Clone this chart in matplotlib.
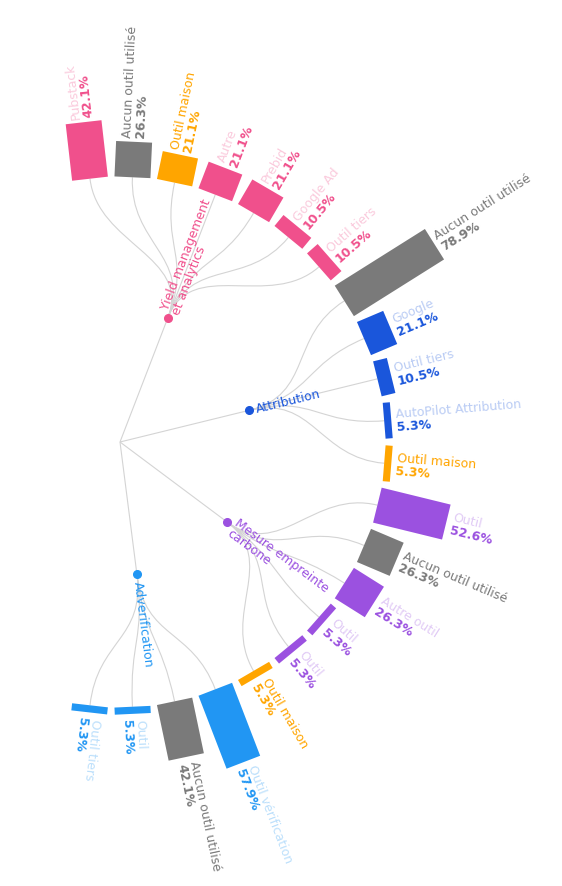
import numpy as np
import matplotlib.pyplot as plt
from matplotlib.patches import Polygon
from matplotlib.path import Path
from matplotlib.patches import PathPatch

# data
categories = ["Yield management\net analytics", "Attribution", "Mesure empreinte\ncarbone", "Adverification"]
cat_colors = ["#f0508c", "#1a56db", "#9b51e0", "#2196f3"]
leaf_cat = [0, 0, 0, 0, 0, 0, 0, 1, 1, 1, 1, 1, 2, 2, 2, 2, 2, 2, 3, 3, 3, 3]
leaf_names = ["Pubstack", "Aucun outil utilisé", "Outil maison", "Autre", "Prebid", "Google Ad", "Outil tiers",
              "Aucun outil utilisé", "Google", "Outil tiers", "AutoPilot Attribution", "Outil maison",
              "Outil", "Aucun outil utilisé", "Autre outil", "Outil", "Outil", "Outil maison",
              "Outil vérification", "Aucun outil utilisé", "Outil", "Outil tiers"]
leaf_vals = [42.1, 26.3, 21.1, 21.1, 21.1, 10.5, 10.5,
             78.9, 21.1, 10.5, 5.3, 5.3,
             52.6, 26.3, 26.3, 5.3, 5.3, 5.3,
             57.9, 42.1, 5.3, 5.3]
blurred = [True, False, False, True, True, True, True,
           False, True, True, True, False,
           True, False, True, True, True, False,
           True, False, True, True]

GREY = "#7a7a7a"
ORANGE = "#ffa500"

cx, cy = 120, 443
r_cat, r_leaf = 133, 265
scale = 1.35
half_w = 18

fig = plt.figure(figsize=[5.62, 8.87], dpi=100)
ax = fig.add_axes([0, 0, 1, 1])
ax.set_xlim(0, 562)
ax.set_ylim(887, 0)
ax.set_aspect('equal')
ax.axis('off')

def pt(r, a):
    t = np.radians(a)
    return cx + r * np.cos(t), cy - r * np.sin(t)

def link(r0, a0, r1, a1):
    rm = (r0 + r1) / 2
    verts = [pt(r0, a0), pt(rm, a0), pt(rm, a1), pt(r1, a1)]
    p = Path(verts, [Path.MOVETO, Path.CURVE4, Path.CURVE4, Path.CURVE4])
    ax.add_patch(PathPatch(p, fc='none', ec='#d4d4d4', lw=0.8, zorder=1))

n = len(leaf_vals)
angles = np.linspace(96.5, -96.5, n)

for k in range(len(categories)):
    idx = [i for i in range(n) if leaf_cat[i] == k]
    ac = angles[idx].mean()
    link(0, ac, r_cat, ac)
    for i in idx:
        link(r_cat, ac, r_leaf, angles[i])
    x, y = pt(r_cat, ac)
    ax.plot(x, y, 'o', color=cat_colors[k], ms=5.5, zorder=3)
    lx, ly = pt(r_cat + 7, ac)
    ax.text(lx, ly, categories[k], rotation=ac, rotation_mode='anchor', ha='left', va='center',
            color=cat_colors[k], fontsize=9, linespacing=0.95, zorder=4)

for i in range(n):
    a = angles[i]
    v = leaf_vals[i]
    name = leaf_names[i]
    if name == "Aucun outil utilisé":
        col = GREY
    elif name == "Outil maison":
        col = ORANGE
    else:
        col = cat_colors[leaf_cat[i]]
    t = np.radians(a)
    u = np.array([np.cos(t), -np.sin(t)])
    tg = np.array([np.sin(t), np.cos(t)])
    p0 = np.array(pt(r_leaf, a))
    L = scale * v
    corners = [p0 - half_w * tg, p0 + half_w * tg, p0 + L * u + half_w * tg, p0 + L * u - half_w * tg]
    ax.add_patch(Polygon(corners, closed=True, fc=col, ec='none', zorder=2))
    lx, ly = p0 + (L + 5) * u
    off = 6.5
    nx, ny = np.array([lx, ly]) - off * tg
    px_, py_ = np.array([lx, ly]) + off * tg
    ax.text(nx, ny, name, rotation=a, rotation_mode='anchor', ha='left', va='center',
            color=col, fontsize=9, alpha=0.3 if blurred[i] else 1.0, zorder=4)
    ax.text(px_, py_, "%.1f%%" % v, rotation=a, rotation_mode='anchor', ha='left', va='center',
            color=col, fontsize=9, fontweight='bold', zorder=4)

fig.savefig('out.png', dpi=100)
